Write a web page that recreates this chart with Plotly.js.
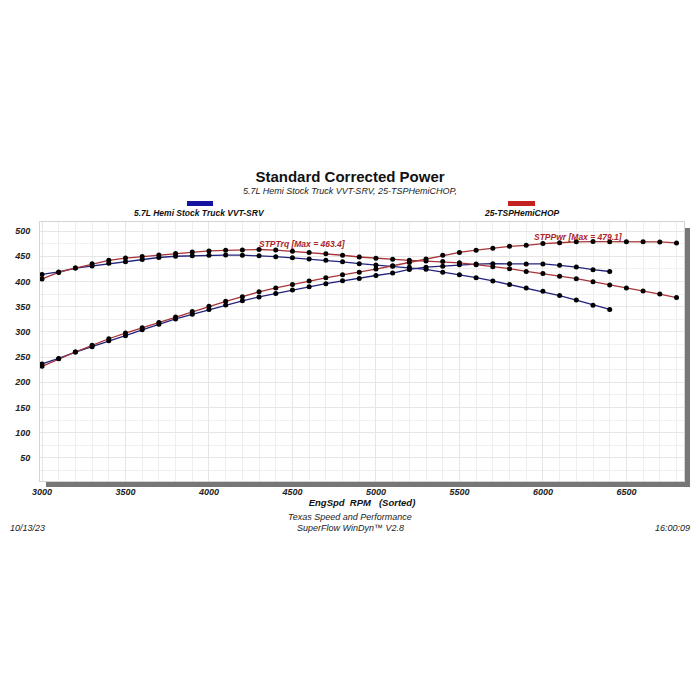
<!DOCTYPE html>
<html>
<head>
<meta charset="utf-8">
<script src="https://cdn.plot.ly/plotly-3.0.1.min.js"></script>
<style>html,body{margin:0;padding:0;background:#fff;}#chart{width:700px;height:700px;}</style>
</head>
<body>
<div id="chart"></div>
<script>
// ---- Data ----
const rpmTSP = [3000,3100,3200,3300,3400,3500,3600,3700,3800,3900,4000,4100,4200,4300,4400,4500,4600,4700,4800,4900,5000,5100,5200,5300,5400,5500,5600,5700,5800,5900,6000,6100,6200,6300,6400,6500,6600,6700,6800];
const tspTorque = [405,418,426.5,435,442,446.5,449.5,452.5,455.5,458.5,460.5,461.8,462.6,463.4,462.2,460,457.5,455,452,448.5,446,444,442,440.5,439.5,437,433.3,429.4,425.4,420,416,410.5,405.5,399.5,393,387,381,375,368];
const tspPower = [231.5,246.5,260,273.3,286.3,297.5,308.1,318.8,329.6,340.5,350.7,360.5,369.9,379.4,387.2,394.1,400.7,407.2,413.1,418.4,424.6,431.2,437.6,444.5,451.9,457.6,462.0,466.0,469.8,471.8,475.2,476.8,478.7,479.1,478.9,479.0,478.8,478.5,476.4];

const rpmStock = [3000,3100,3200,3300,3400,3500,3600,3700,3800,3900,4000,4100,4200,4300,4400,4500,4600,4700,4800,4900,5000,5100,5200,5300,5400,5500,5600,5700,5800,5900,6000,6100,6200,6300,6400];
const stockTorque = [414,419,426.5,430.5,436,439,443.5,447.5,450,451,452,452.3,452.2,451,449.2,447,444.6,442,439,435.3,432.5,430,428,424,418.5,413.5,407.5,401,394,387,380.5,372,363,353,344.5];
const stockPower = [236.4,247.3,259.9,270.5,282.3,292.5,304.0,315.3,325.6,334.9,344.2,353.1,361.6,369.2,376.3,383.0,389.4,395.5,401.2,406.1,411.8,416.6,423.8,428.4,430.3,433.0,434.5,435.2,435.1,434.7,434.7,432.0,428.6,423.4,419.8];

const xTicks = [3000,3500,4000,4500,5000,5500,6000,6500];
const yTicks = [50,100,150,200,250,300,350,400,450,500];
const seriesNames = ["5.7L Hemi Stock Truck VVT-SRV", "25-TSPHemiCHOP"];
const maxLabels = ["STPTrq [Max = 463.4]", "STPPwr [Max = 479.1]"];

// ---- Styles ----
const blueLine = '#23237e';
const redLine = '#a8343a';
const font = 'Liberation Sans, Arial, sans-serif';
const mk = {color:'#000', size:5};

function tr(x, y, color, name) {
  return {x:x, y:y, type:'scatter', mode:'lines+markers', name:name,
    line:{color:color, width:1.3}, marker:mk, hoverinfo:'x+y', showlegend:false};
}

const data = [
  tr(rpmStock, stockTorque, blueLine, seriesNames[0] + ' STPTrq'),
  tr(rpmStock, stockPower, blueLine, seriesNames[0] + ' STPPwr'),
  tr(rpmTSP, tspTorque, redLine, seriesNames[1] + ' STPTrq'),
  tr(rpmTSP, tspPower, redLine, seriesNames[1] + ' STPPwr')
];

const tickFont = {family:font, size:9, color:'#222', weight:'bold', style:'italic'};
const W = 644, H = 259; // plot area px

const layout = {
  width:700, height:700,
  paper_bgcolor:'#fff', plot_bgcolor:'#fff',
  margin:{l:40, r:16, t:222, b:219},
  title:{text:'Standard Corrected Power', x:0.5, xanchor:'center', y:1-177/700, yanchor:'middle', yref:'container',
    font:{family:font, size:15, color:'#111', weight:'bold'}},
  xaxis:{range:[2988,6845], tickvals:xTicks, ticktext:xTicks.map(String), ticks:'',
    tickfont:tickFont, ticklabelstandoff:2,
    showgrid:true, gridcolor:'#e6e6e6', gridwidth:1,
    minor:{dtick:100, showgrid:true, gridcolor:'#eeeeee', gridwidth:1},
    zeroline:false, showline:true, linecolor:'#d4d4d4', mirror:true,
    title:{text:'EngSpd\u00A0 RPM\u00A0 \u00A0(Sorted)', standoff:0, font:{family:font, size:9.5, color:'#111', weight:'bold', style:'italic'}}},
  yaxis:{range:[4,518], tickvals:yTicks, ticktext:yTicks.map(String), ticks:'',
    tickfont:tickFont, ticklabelstandoff:7,
    showgrid:true, gridcolor:'#e6e6e6', gridwidth:1,
    minor:{dtick:25, showgrid:true, gridcolor:'#f0f0f0', gridwidth:1},
    zeroline:false, showline:true, linecolor:'#d4d4d4', mirror:true},
  shapes:[
    // drop shadow right & bottom
    {type:'rect', xref:'paper', yref:'paper', x0:1, x1:1+6/W, y0:-6/H, y1:1-6/H, fillcolor:'#777777', line:{width:0}, layer:'below'},
    {type:'rect', xref:'paper', yref:'paper', x0:6/W, x1:1+6/W, y0:-6/H, y1:0, fillcolor:'#777777', line:{width:0}, layer:'below'},
    // legend swatches
    {type:'rect', xref:'paper', yref:'paper', x0:(187-40)/W, x1:(213-40)/W, y0:(481-206)/H, y1:(481-201)/H, fillcolor:'#1414a0', line:{width:0}},
    {type:'rect', xref:'paper', yref:'paper', x0:(508-40)/W, x1:(535-40)/W, y0:(481-206)/H, y1:(481-201)/H, fillcolor:'#c42222', line:{width:0}}
  ],
  annotations:[
    {text:'5.7L Hemi Stock Truck VVT-SRV, 25-TSPHemiCHOP,', xref:'paper', yref:'paper', x:(350-40)/W, y:(481-191)/H, xanchor:'center', yanchor:'middle', showarrow:false,
      font:{family:font, size:9, color:'#222', style:'italic'}},
    {text:seriesNames[0], xref:'paper', yref:'paper', x:(199-40)/W, y:(481-213)/H, xanchor:'center', yanchor:'middle', showarrow:false,
      font:{family:font, size:8.5, color:'#111', weight:'bold', style:'italic'}},
    {text:seriesNames[1], xref:'paper', yref:'paper', x:(521-40)/W, y:(481-213)/H, xanchor:'center', yanchor:'middle', showarrow:false,
      font:{family:font, size:8.5, color:'#111', weight:'bold', style:'italic'}},
    {text:maxLabels[0], xref:'paper', yref:'paper', x:(302-40)/W, y:(481-244)/H, xanchor:'center', yanchor:'middle', showarrow:false,
      font:{family:font, size:8.5, color:'#ac2529', weight:'bold', style:'italic'}},
    {text:maxLabels[1], xref:'paper', yref:'paper', x:(578-40)/W, y:(481-237)/H, xanchor:'center', yanchor:'middle', showarrow:false,
      font:{family:font, size:8.5, color:'#ac2529', weight:'bold', style:'italic'}},
    {text:'Texas Speed and Performance', xref:'paper', yref:'paper', x:(350-40)/W, y:(481-517)/H, xanchor:'center', yanchor:'middle', showarrow:false,
      font:{family:font, size:9, color:'#222', style:'italic'}},
    {text:'SuperFlow WinDyn\u2122 V2.8', xref:'paper', yref:'paper', x:(350-40)/W, y:(481-528)/H, xanchor:'center', yanchor:'middle', showarrow:false,
      font:{family:font, size:9, color:'#222', style:'italic'}},
    {text:'10/13/23', xref:'paper', yref:'paper', x:(8-40)/W, y:(481-528)/H, xanchor:'left', yanchor:'middle', showarrow:false,
      font:{family:font, size:9, color:'#222', style:'italic'}},
    {text:'16:00:09', xref:'paper', yref:'paper', x:(692-40)/W, y:(481-528)/H, xanchor:'right', yanchor:'middle', showarrow:false,
      font:{family:font, size:9, color:'#222', style:'italic'}}
  ]
};

Plotly.newPlot('chart', data, layout, {staticPlot:true, displayModeBar:false});
</script>
</body>
</html>
